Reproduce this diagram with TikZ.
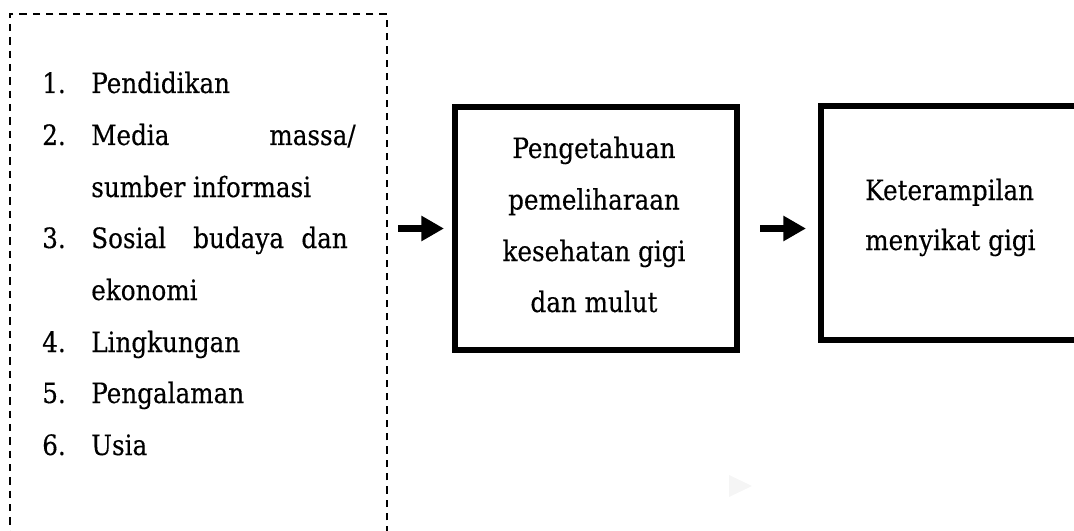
\documentclass[tikz,border=0pt]{standalone}
\usepackage{fontspec}
\setmainfont[FakeStretch=0.88,FakeBold=0.35]{DejaVu Serif}
\usetikzlibrary{arrows.meta,fit}
\begin{document}
\begin{tikzpicture}[x=0.75pt,y=-0.75pt,
  txt/.style={font=\fontsize{21}{25}\selectfont, inner sep=0pt, anchor=base west},
  ctxt/.style={txt, anchor=base},
  rtxt/.style={txt, anchor=base east},
  dashbox/.style={draw, line width=2pt, dash pattern=on 5.6pt off 4.4pt, inner sep=0pt},
  solidbox/.style={draw, line width=4.5pt, inner sep=0pt},
  arr/.style={line width=5.5pt, -{Triangle[length=17pt,width=18pt]}}]
\useasboundingbox (0,0) rectangle (1074,531);
\clip (0,0) rectangle (1074,531);
% faint watermark
\fill[black!4] (729,475) -- (752,486) -- (729,497) -- cycle;
% boxes
\coordinate (d1) at (10,14);
\coordinate (d2) at (387,570);
\node[dashbox, fit=(d1)(d2)] (factors) {};
\coordinate (m1) at (455,107);
\coordinate (m2) at (737,350);
\node[solidbox, fit=(m1)(m2)] (know) {};
\coordinate (r1) at (821,106);
\coordinate (r2) at (1100,340);
\node[solidbox, fit=(r1)(r2)] (skill) {};
% list
\node[txt] (n1) at (42,93) {1.};
\node[txt] (t1) at (91,93) {Pendidikan};
\node[txt] (n2) at (42,145) {2.};
\node[txt] (t2a) at (91,145) {Media};
\node[rtxt] (t2b) at (356,145) {massa/};
\node[txt] (t2c) at (91,197) {sumber informasi};
\node[txt] (n3) at (42,248) {3.};
\node[txt] (t3a) at (91,248) {Sosial};
\node[txt] (t3b) at (193,248) {budaya};
\node[rtxt] (t3c) at (348,248) {dan};
\node[txt] (t3d) at (91,300) {ekonomi};
\node[txt] (n4) at (42,352) {4.};
\node[txt] (t4) at (91,352) {Lingkungan};
\node[txt] (n5) at (42,403) {5.};
\node[txt] (t5) at (91,403) {Pengalaman};
\node[txt] (n6) at (42,455) {6.};
\node[txt] (t6) at (91,455) {Usia};
% middle text
\node[ctxt] (k1) at (594,158) {Pengetahuan};
\node[ctxt] (k2) at (594,209.5) {pemeliharaan};
\node[ctxt] (k3) at (594,261) {kesehatan gigi};
\node[ctxt] (k4) at (594,312) {dan mulut};
% right text
\node[txt] (s1) at (865,200) {Keterampilan};
\node[txt] (s2) at (865,250) {menyikat gigi};
% arrows
\draw[arr] ([xshift=7.5pt]factors.east |- know.west) -- ([xshift=-6pt]know.west);
\draw[arr] ([xshift=15pt]know.east) -- ([xshift=-9pt]skill.west |- know.east);
\end{tikzpicture}
\end{document}
